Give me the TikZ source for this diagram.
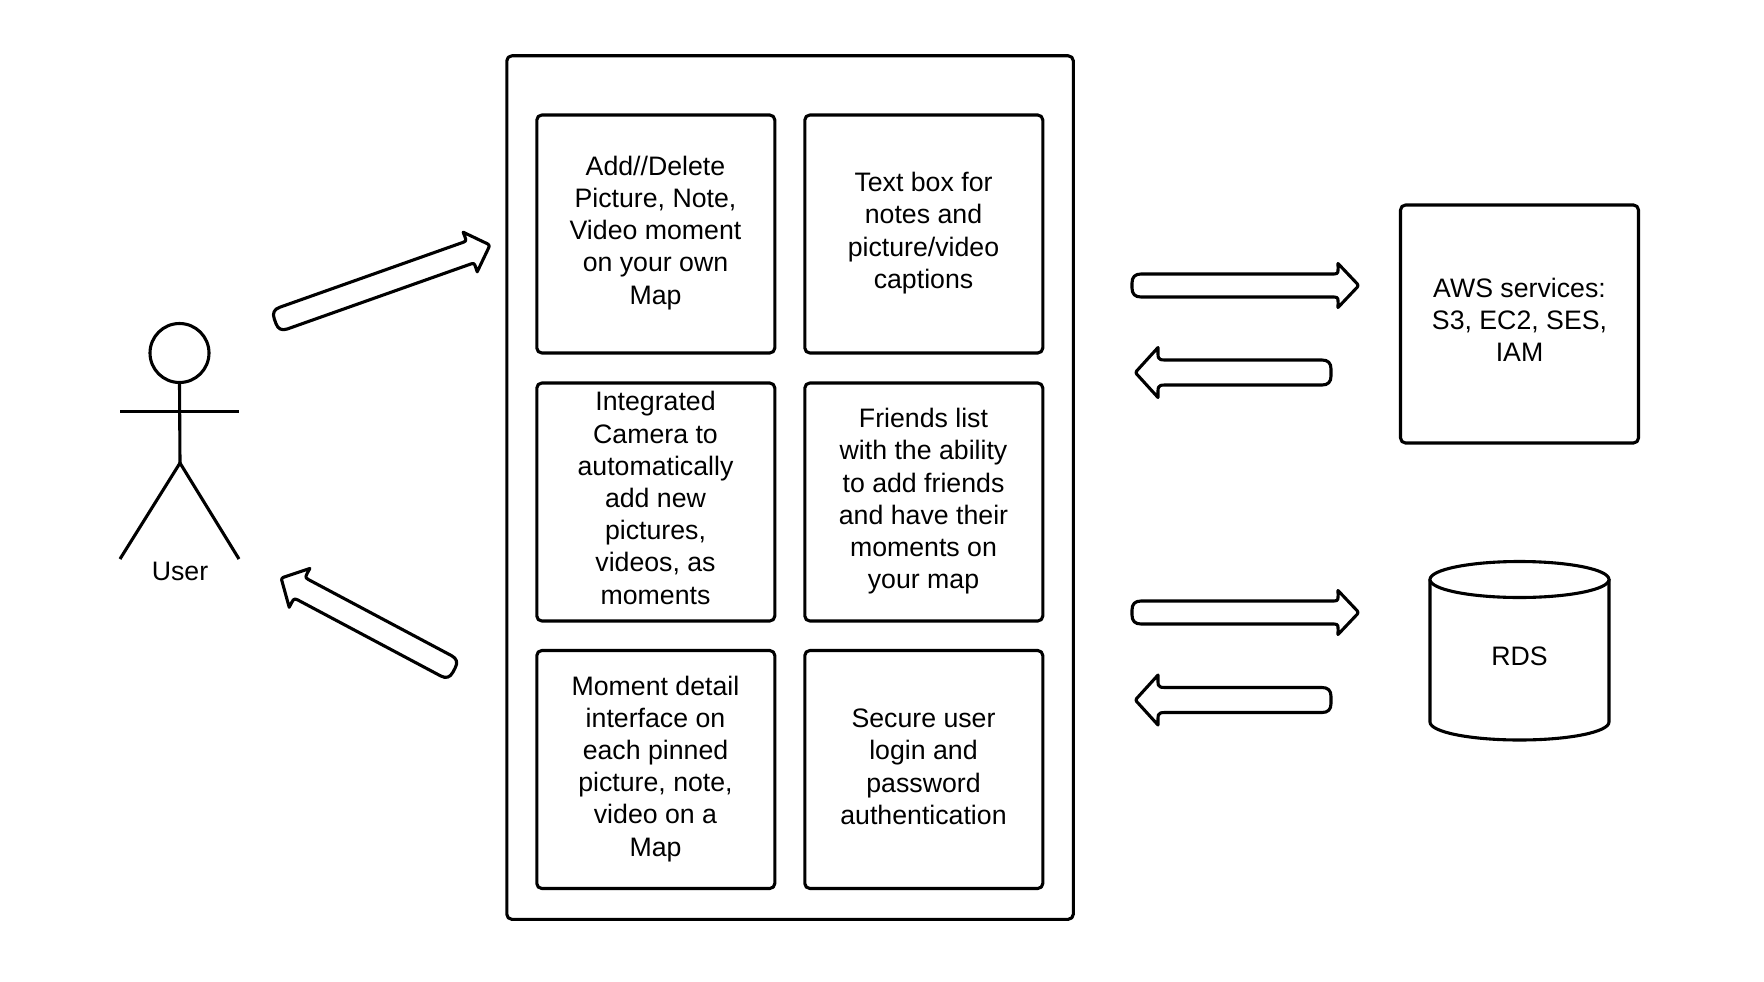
\documentclass[tikz,border=0pt]{standalone}
\usepackage{fontspec}
\setmainfont{Liberation Sans}
\usetikzlibrary{shapes.geometric}
\tikzset{
  x=1pt,y=-1pt,
  line/.style={draw=black,line width=3.1pt,line join=round},
  box/.style={line,rounded corners=5pt,fill=white,anchor=north west,inner sep=0pt,outer sep=0pt,minimum width=238pt,minimum height=238pt},
  label/.style={inner sep=0pt,align=center,font=\fontsize{26.7}{32.2}\selectfont},
}
% tip x, tip y, angle, length, shaft half width, head half width, head length
\newcommand{\blockarrow}[7]{%
  \begin{scope}[shift={(#1,#2)},rotate=#3]
    \draw[line,fill=white]
      (-#4+9,-#5) -- (-#6-#7+18,-#5)
      .. controls (-#7+1,-#5) and (-#7,-#5-2) .. (-#7,-#6)
      -- (-3,-3) .. controls (-0.5,-1) and (-0.5,1) .. (-3,3)
      -- (-#7,#6)
      .. controls (-#7,#5+2) and (-#7+1,#5) .. (-#6-#7+18,#5)
      -- (-#4+9,#5)
      .. controls (-#4+3,#5) and (-#4,#5-3) .. (-#4,#5-9)
      -- (-#4,-#5+9)
      .. controls (-#4,-#5+3) and (-#4+3,-#5) .. (-#4+9,-#5) -- cycle;
  \end{scope}}
\begin{document}
\begin{tikzpicture}
\useasboundingbox (0,0) rectangle (1764,982);
\fill[white] (0,0) rectangle (1764,982);

% container
\node[box,minimum width=566.5pt,minimum height=863.5pt] (app) at (506.8,55.8) {};
% feature boxes
\node[box] (b1) at (536.8,115) {};
\node[box] (b2) at (804.8,115) {};
\node[box] (b3) at (536.8,383) {};
\node[box] (b4) at (804.8,383) {};
\node[box] (b5) at (536.8,650.5) {};
\node[box] (b6) at (804.8,650.5) {};
\node[box] (aws) at (1400.5,205) {};
\node[label] (t1) at (655.5,232.8) {Add//Delete\\Picture, Note,\\Video moment\\on your own\\Map};
\node[label] (t2) at (923.5,233) {Text box for\\notes and\\picture/video\\captions};
\node[label] (t3) at (655.5,497.9) {Integrated\\Camera to\\automatically\\add new\\pictures,\\videos, as\\moments};
\node[label] (t4) at (923.5,501.2) {Friends list\\with the ability\\to add friends\\and have their\\moments on\\your map};
\node[label] (t5) at (655.5,768.7) {Moment detail\\interface on\\each pinned\\picture, note,\\video on a\\Map};
\node[label] (t6) at (923.5,766.8) {Secure user\\login and\\password\\authentication};
\node[label] (t7) at (1519.5,320) {AWS services:\\S3, EC2, SES,\\IAM};

% RDS cylinder
\draw[line,fill=white] (1430,579) -- (1430,722)
  .. controls (1430,732) and (1470,740) .. (1519.5,740)
  .. controls (1569,740) and (1609,732) .. (1609,722) -- (1609,579);
\draw[line,fill=white] (1519.5,579.5) ellipse [x radius=89.5,y radius=18];
\node[label] (rds) at (1519.5,656) {RDS};

% actor
\node[line,circle,minimum size=59pt,inner sep=0pt,outer sep=0pt] (head) at (179.5,353) {};
\coordinate (hip) at (180,463);
\coordinate (armL) at (120,411.5);
\coordinate (armR) at (239,411.5);
\coordinate (footL) at (120,559);
\coordinate (footR) at (239,559);
\draw[line] (head.south) -- (hip);
\draw[line] (armL) -- (armR);
\draw[line] (footL) -- (hip) -- (footR);
\node[label] (user) at (180,571) {User};

% block arrows
\blockarrow{490}{245}{19.5}{228}{11.5}{21}{21}
\blockarrow{281}{578}{152}{196}{11.5}{22}{21}
\blockarrow{1359}{285.5}{0}{227}{11.5}{22}{21}
\blockarrow{1135}{372.5}{180}{196}{12.5}{25}{23}
\blockarrow{1359}{612.5}{0}{227}{11.5}{22}{21}
\blockarrow{1135}{700}{180}{196}{12.5}{25}{23}
\end{tikzpicture}
\end{document}
